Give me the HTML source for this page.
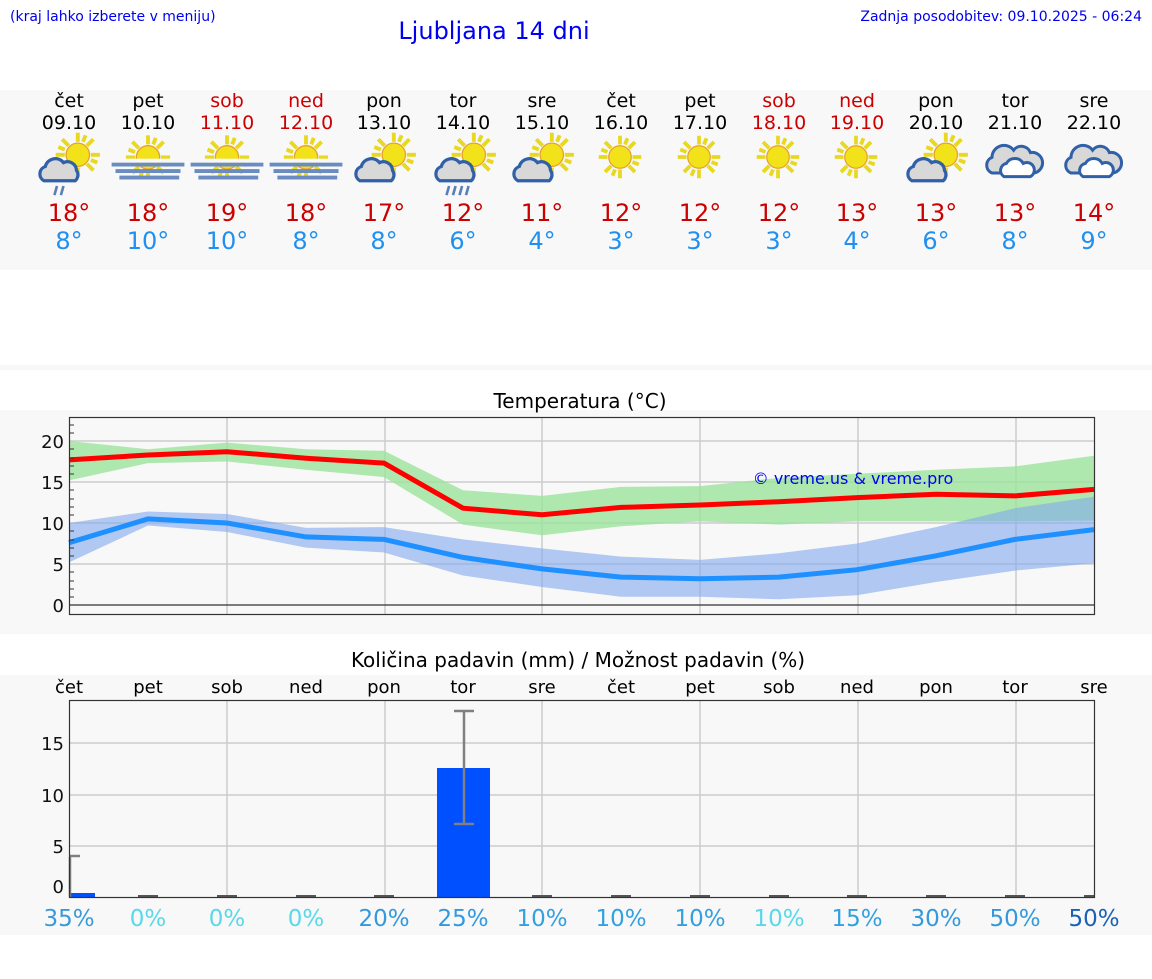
<!DOCTYPE html><html><head><meta charset="utf-8"><style>
body{margin:0;background:#fff;width:1152px;height:975px;overflow:hidden;font-family:"DejaVu Sans","Liberation Sans",sans-serif}
</style></head><body>
<svg width="1152" height="975" xmlns="http://www.w3.org/2000/svg" font-family="DejaVu Sans, Liberation Sans, sans-serif">
<defs>
<g id="sun"><g stroke="#e8d820" stroke-width="3"><line x1="0" y1="-17" x2="0" y2="-10"/><line x1="0" y1="17" x2="0" y2="10"/><line x1="-17" y1="0" x2="-10" y2="0"/><line x1="17" y1="0" x2="10" y2="0"/><line x1="-12" y1="-12" x2="-7" y2="-7"/><line x1="12" y1="12" x2="7" y2="7"/><line x1="-12" y1="12" x2="-7" y2="7"/><line x1="12" y1="-12" x2="7" y2="-7"/><line x1="6" y1="-15" x2="4" y2="-10"/><line x1="-6" y1="15" x2="-4" y2="10"/><line x1="15" y1="6" x2="10" y2="4"/><line x1="-15" y1="-6" x2="-10" y2="-4"/></g><circle r="9" fill="#f2e21a" stroke="#e8a030" stroke-width="1"/></g>
<g id="cl"><path d="M-14,8 a6,6 0 0 1 1,-11 a8,8 0 0 1 14,-3 a7,7 0 0 1 10,6 a6,6 0 0 1 -1,8 z" fill="#d8d8d8" stroke="#3060a8" stroke-width="2.5"/></g>
<g id="suncl"><use href="#sun" transform="translate(6,-4)"/><use href="#cl" transform="translate(-6,8)"/></g>
<g id="fog"><use href="#sun" transform="translate(0,-2)"/><g fill="#6a8cc0"><rect x="-28" y="2" width="56" height="3"/><rect x="-25" y="7" width="50" height="3"/><rect x="-22" y="12" width="46" height="3"/></g><rect x="-30" y="-1" width="60" height="3" fill="#f8f8f8"/></g>
<g id="rain"><use href="#suncl"/><g stroke="#5a7fb8" stroke-width="2"><line x1="-10" y1="20" x2="-12" y2="27"/><line x1="-5" y1="20" x2="-7" y2="27"/></g></g>
<g id="rain2"><use href="#suncl"/><g stroke="#5a7fb8" stroke-width="2"><line x1="-13" y1="20" x2="-15" y2="27"/><line x1="-8" y1="20" x2="-10" y2="27"/><line x1="-3" y1="20" x2="-5" y2="27"/><line x1="2" y1="20" x2="0" y2="27"/></g></g>
<g id="cloudy"><path d="M-20,10 a7,7 0 0 1 0,-13 a10,10 0 0 1 18,-6 a8,8 0 0 1 14,2 a8,8 0 0 1 3,17 z" fill="#d8d8d8" stroke="#3060a8" stroke-width="2.5"/><path d="M-10,13 a6,6 0 0 1 2,-11 a8,8 0 0 1 14,0 a6,6 0 0 1 6,11 z" fill="#fff" stroke="#3060a8" stroke-width="2.5"/></g>
</defs>
<rect width="1152" height="975" fill="#fff"/>
<text x="10" y="21" font-size="14" fill="#0000ee">(kraj lahko izberete v meniju)</text>
<text x="494" y="39" font-size="24" fill="#0000ee" text-anchor="middle">Ljubljana 14 dni</text>
<text x="1142" y="21" font-size="14" fill="#0000ee" text-anchor="end">Zadnja posodobitev: 09.10.2025 - 06:24</text>
<rect x="0" y="90" width="1152" height="180" fill="#f8f8f8"/>
<rect x="0" y="365" width="1152" height="5" fill="#f8f8f8"/>
<g font-size="19" text-anchor="middle">
<g fill="#000"><text x="69" y="107">čet</text><text x="148" y="107">pet</text><text x="384" y="107">pon</text><text x="463" y="107">tor</text><text x="542" y="107">sre</text><text x="621" y="107">čet</text><text x="700" y="107">pet</text><text x="936" y="107">pon</text><text x="1015" y="107">tor</text><text x="1094" y="107">sre</text>
<text x="69" y="129">09.10</text><text x="148" y="129">10.10</text><text x="384" y="129">13.10</text><text x="463" y="129">14.10</text><text x="542" y="129">15.10</text><text x="621" y="129">16.10</text><text x="700" y="129">17.10</text><text x="936" y="129">20.10</text><text x="1015" y="129">21.10</text><text x="1094" y="129">22.10</text></g>
<g fill="#cc0000"><text x="227" y="107">sob</text><text x="306" y="107">ned</text><text x="779" y="107">sob</text><text x="857" y="107">ned</text><text x="227" y="129">11.10</text><text x="306" y="129">12.10</text><text x="779" y="129">18.10</text><text x="857" y="129">19.10</text></g>
</g>
<use href="#rain" transform="translate(70,160) scale(1.3)"/><use href="#fog" transform="translate(148,160) scale(1.3)"/><use href="#fog" transform="translate(227,160) scale(1.3)"/><use href="#fog" transform="translate(306,160) scale(1.3)"/><use href="#suncl" transform="translate(386,160) scale(1.3)"/><use href="#rain2" transform="translate(466,160) scale(1.3)"/><use href="#suncl" transform="translate(544,160) scale(1.3)"/><use href="#sun" transform="translate(620,157) scale(1.25)"/><use href="#sun" transform="translate(699,157) scale(1.25)"/><use href="#sun" transform="translate(778,157) scale(1.25)"/><use href="#sun" transform="translate(856,157) scale(1.25)"/><use href="#suncl" transform="translate(938,160) scale(1.3)"/><use href="#cloudy" transform="translate(1016,161) scale(1.2)"/><use href="#cloudy" transform="translate(1095,161) scale(1.2)"/>
<g font-size="24" text-anchor="middle">
<g fill="#cc0000"><text x="69" y="221">18°</text><text x="148" y="221">18°</text><text x="227" y="221">19°</text><text x="306" y="221">18°</text><text x="384" y="221">17°</text><text x="463" y="221">12°</text><text x="542" y="221">11°</text><text x="621" y="221">12°</text><text x="700" y="221">12°</text><text x="779" y="221">12°</text><text x="857" y="221">13°</text><text x="936" y="221">13°</text><text x="1015" y="221">13°</text><text x="1094" y="221">14°</text></g>
<g fill="#2090f0"><text x="69" y="249">8°</text><text x="148" y="249">10°</text><text x="227" y="249">10°</text><text x="306" y="249">8°</text><text x="384" y="249">8°</text><text x="463" y="249">6°</text><text x="542" y="249">4°</text><text x="621" y="249">3°</text><text x="700" y="249">3°</text><text x="779" y="249">3°</text><text x="857" y="249">4°</text><text x="936" y="249">6°</text><text x="1015" y="249">8°</text><text x="1094" y="249">9°</text></g>
</g>
<!-- temperature -->
<rect x="0" y="410" width="1152" height="224" fill="#f8f8f8"/>
<text x="580" y="408" font-size="20" text-anchor="middle">Temperatura (°C)</text>
<g stroke="#ccc" stroke-width="1.5"><line x1="69" y1="441" x2="1094" y2="441"/><line x1="69" y1="482" x2="1094" y2="482"/><line x1="69" y1="523" x2="1094" y2="523"/><line x1="69" y1="564" x2="1094" y2="564"/>
<line x1="227" y1="417" x2="227" y2="614"/><line x1="385" y1="417" x2="385" y2="614"/><line x1="542" y1="417" x2="542" y2="614"/><line x1="700" y1="417" x2="700" y2="614"/><line x1="858" y1="417" x2="858" y2="614"/><line x1="1016" y1="417" x2="1016" y2="614"/></g>
<line x1="69" y1="605" x2="1094" y2="605" stroke="#333" stroke-width="1.2"/>
<polygon fill="#9be39b" fill-opacity="0.8" points="69,441 148,449.2 227,442.6 306,449.2 384,450.8 463,490.2 542,495.9 621,486.9 700,486.1 779,477.9 857,473.8 936,469.7 1015,466.4 1094,455.8 1094,520.5 1015,521.4 936,521.4 857,521.4 779,524.6 700,521.4 621,526.3 542,535.3 463,524.6 384,477.1 306,469.7 227,461.5 148,463.1 69,480.4"/>
<polygon fill="#80a8ee" fill-opacity="0.6" points="69,523 148,511.5 227,514 306,527.9 384,527.1 463,539.4 542,548.4 621,556.6 700,559.9 779,553.3 857,543.5 936,527.1 1015,508.2 1094,496.8 1094,563.2 1015,570.6 936,582 857,595.2 779,599.3 700,596.8 621,596.8 542,587 463,575.5 384,552.5 306,547.6 227,532 148,525.5 69,562.4"/>
<polyline fill="none" stroke="#ff0000" stroke-width="5" points="69,459.9 148,455 227,451.7 306,458.2 384,463.1 463,508.2 542,514.8 621,507.4 700,505 779,501.7 857,497.6 936,494.3 1015,495.9 1094,489.4"/>
<polyline fill="none" stroke="#1e90ff" stroke-width="5" points="69,542.7 148,518.9 227,523 306,536.9 384,539.4 463,557.4 542,568.9 621,577.1 700,578.8 779,577.1 857,569.7 936,555.8 1015,539.4 1094,529.6"/>
<rect x="69.5" y="417.5" width="1025" height="197" fill="none" stroke="#333" stroke-width="1.2"/>
<g stroke="#333"><line x1="69" y1="425" x2="74" y2="425"/><line x1="69" y1="433" x2="74" y2="433"/><line x1="69" y1="449" x2="74" y2="449"/><line x1="69" y1="458" x2="74" y2="458"/><line x1="69" y1="466" x2="74" y2="466"/><line x1="69" y1="474" x2="74" y2="474"/><line x1="69" y1="490" x2="74" y2="490"/><line x1="69" y1="499" x2="74" y2="499"/><line x1="69" y1="507" x2="74" y2="507"/><line x1="69" y1="515" x2="74" y2="515"/><line x1="69" y1="531" x2="74" y2="531"/><line x1="69" y1="540" x2="74" y2="540"/><line x1="69" y1="548" x2="74" y2="548"/><line x1="69" y1="556" x2="74" y2="556"/><line x1="69" y1="572" x2="74" y2="572"/><line x1="69" y1="581" x2="74" y2="581"/><line x1="69" y1="589" x2="74" y2="589"/><line x1="69" y1="597" x2="74" y2="597"/></g>
<g font-size="18" text-anchor="end" fill="#111"><text x="64" y="448">20</text><text x="64" y="489">15</text><text x="64" y="530">10</text><text x="64" y="571">5</text><text x="64" y="612">0</text></g>
<text x="853" y="484" font-size="16" fill="#0000ee" text-anchor="middle">© vreme.us &amp; vreme.pro</text>
<!-- precipitation -->
<rect x="0" y="675" width="1152" height="260" fill="#f8f8f8"/>
<text x="578" y="667" font-size="20" text-anchor="middle">Količina padavin (mm) / Možnost padavin (%)</text>
<g font-size="18" text-anchor="middle" fill="#000"><text x="69" y="693">čet</text><text x="148" y="693">pet</text><text x="227" y="693">sob</text><text x="306" y="693">ned</text><text x="384" y="693">pon</text><text x="463" y="693">tor</text><text x="542" y="693">sre</text><text x="621" y="693">čet</text><text x="700" y="693">pet</text><text x="779" y="693">sob</text><text x="857" y="693">ned</text><text x="936" y="693">pon</text><text x="1015" y="693">tor</text><text x="1094" y="693">sre</text></g>
<g stroke="#ccc" stroke-width="1.5"><line x1="69" y1="743" x2="1094" y2="743"/><line x1="69" y1="795" x2="1094" y2="795"/><line x1="69" y1="846" x2="1094" y2="846"/>
<line x1="227" y1="700" x2="227" y2="897"/><line x1="385" y1="700" x2="385" y2="897"/><line x1="542" y1="700" x2="542" y2="897"/><line x1="700" y1="700" x2="700" y2="897"/><line x1="858" y1="700" x2="858" y2="897"/><line x1="1016" y1="700" x2="1016" y2="897"/></g>
<rect x="70" y="893" width="25" height="4" fill="#0050ff"/>
<rect x="437" y="768" width="53" height="129" fill="#0050ff"/>
<g stroke="#808080" stroke-width="2.5"><line x1="70" y1="857" x2="70" y2="897"/><line x1="70" y1="856" x2="80" y2="856"/><line x1="464" y1="711" x2="464" y2="824"/><line x1="454" y1="711" x2="474" y2="711"/><line x1="454" y1="824" x2="474" y2="824"/></g>
<g stroke="#555" stroke-width="2"><line x1="138" y1="896" x2="158" y2="896"/><line x1="217" y1="896" x2="237" y2="896"/><line x1="296" y1="896" x2="316" y2="896"/><line x1="374" y1="896" x2="394" y2="896"/><line x1="532" y1="896" x2="552" y2="896"/><line x1="611" y1="896" x2="631" y2="896"/><line x1="690" y1="896" x2="710" y2="896"/><line x1="769" y1="896" x2="789" y2="896"/><line x1="847" y1="896" x2="867" y2="896"/><line x1="926" y1="896" x2="946" y2="896"/><line x1="1005" y1="896" x2="1025" y2="896"/><line x1="1084" y1="896" x2="1094" y2="896"/></g>
<rect x="69.5" y="700.5" width="1025" height="197" fill="none" stroke="#333" stroke-width="1.2"/>
<g font-size="18" text-anchor="end" fill="#111"><text x="64" y="750">15</text><text x="64" y="802">10</text><text x="64" y="853">5</text><text x="64" y="893">0</text></g>
<g font-size="23" text-anchor="middle"><text x="69" y="926" fill="#3a9ad9">35%</text><text x="148" y="926" fill="#5ad8ea">0%</text><text x="227" y="926" fill="#5ad8ea">0%</text><text x="306" y="926" fill="#5ad8ea">0%</text><text x="384" y="926" fill="#3399dd">20%</text><text x="463" y="926" fill="#3399dd">25%</text><text x="542" y="926" fill="#33a0e0">10%</text><text x="621" y="926" fill="#33a0e0">10%</text><text x="700" y="926" fill="#33a0e0">10%</text><text x="779" y="926" fill="#5ad8ea">10%</text><text x="857" y="926" fill="#33a0e0">15%</text><text x="936" y="926" fill="#3399dd">30%</text><text x="1015" y="926" fill="#3399dd">50%</text><text x="1094" y="926" fill="#1a60b8">50%</text></g>
</svg>
</body></html>
